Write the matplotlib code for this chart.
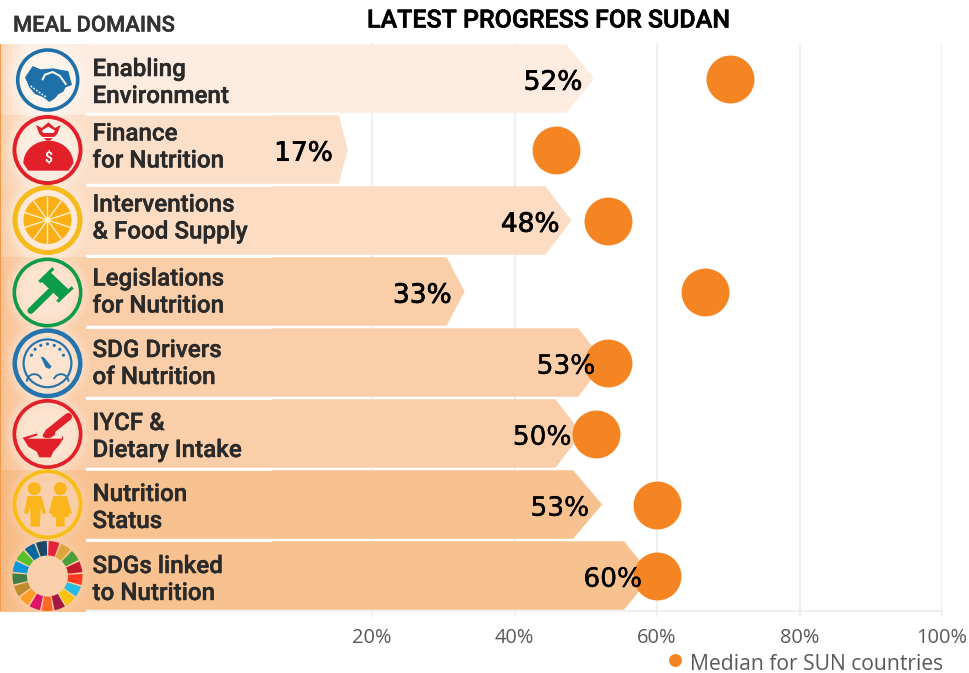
import numpy as np
import matplotlib
matplotlib.use("Agg")
import matplotlib.pyplot as plt
import matplotlib.patheffects as pe
from matplotlib.patches import Circle, Ellipse, Polygon, Wedge, Rectangle, Arc

# ---------- data ----------
domains = ["Enabling\nEnvironment", "Finance\nfor Nutrition", "Interventions\n& Food Supply",
           "Legislations\nfor Nutrition", "SDG Drivers\nof Nutrition", "IYCF &\nDietary Intake",
           "Nutrition\nStatus", "SDGs linked\nto Nutrition"]
progress = [52, 17, 48, 33, 53, 50, 53, 60]
bar_tips = [51.2, 16.6, 48.0, 33.0, 52.6, 49.4, 52.3, 59.3]
median_sun = [70.2, 45.8, 53.1, 66.7, 53.1, 51.4, 60.0, 60.0]
tick_values = [20, 40, 60, 80, 100]
tick_labels = ["20%", "40%", "60%", "80%", "100%"]

# ---------- styles ----------
W, H = 969, 673
row_colors = ["#FDECDF", "#FCDFC9", "#FCDDC3", "#FBCEAA", "#FBCEAA", "#FBCEAA", "#F8C190", "#F8C190"]
head_px = [28, 9, 26, 18, 26, 26, 29, 28]
label_gap_px = [12, 15, 12, 13, 9, 10, 13, 10]
label_stroke = [0.55, 0.55, 0.55, 0.55, 0.25, 0.25, 0.25, 0.25]
ORANGE = "#F58423"
GREY = "#595959"
GRID = "#F0F0F0"
sans = ["Open Sans", "DejaVu Sans"]
lbl = ["Roboto", "DejaVu Sans"]

fig = plt.figure(figsize=(W / 100, H / 100), dpi=100, facecolor="white")
ax = fig.add_axes([0, (H - 611) / H, 942 / W, 568 / H])
px_per_pct = 7.125
ax.set_xlim(-229.5 / px_per_pct, 100)
ax.set_ylim(7.5, -0.5)
ax.patch.set_alpha(0)
for s in ["top", "left", "right"]:
    ax.spines[s].set_visible(False)
ax.spines["bottom"].set_color(GRID)
ax.spines["bottom"].set_linewidth(1.6)
ax.set_yticks([])
ax.set_xticks(tick_values)
ax.set_xticklabels(tick_labels, fontsize=14.4, color=GREY, family=sans)
ax.tick_params(axis="x", color=GRID, width=1.4, length=4.5, pad=8)
ax.xaxis.grid(True, color=GRID, linewidth=1.6)
ax.set_axisbelow(True)

xmin = ax.get_xlim()[0]
bar_h = 0.965
for i, (tip, col, hp) in enumerate(zip(bar_tips, row_colors, head_px)):
    head = hp / px_per_pct
    ax.add_patch(Polygon([(xmin, i - bar_h / 2), (tip - head, i - bar_h / 2), (tip, i),
                          (tip - head, i + bar_h / 2), (xmin, i + bar_h / 2)],
                         closed=True, fc=col, ec="none", zorder=2))

pts = ax.scatter(median_sun, range(len(median_sun)), s=1190, color=ORANGE, zorder=3,
                 linewidths=0, label="Median for SUN countries", clip_on=False)

for i, (v, tip, gap) in enumerate(zip(progress, bar_tips, label_gap_px)):
    t_ = ax.annotate(f"{v}%", (tip, i), xytext=(-gap * 0.72, -3.0), textcoords="offset points",
                     ha="right", va="center", fontsize=19, color="black",
                     family=["DejaVu Sans"], zorder=5)
    t_.set_path_effects([pe.withStroke(linewidth=label_stroke[i], foreground="black")])

leg = ax.legend(handles=[pts], loc="upper left", bbox_to_anchor=(658 / 942, -0.075), frameon=False,
                labelcolor=GREY, markerscale=0.27, handletextpad=-0.1, handlelength=1.6,
                scatteryoffsets=[0.62], borderaxespad=0, borderpad=0,
                prop={"family": sans, "size": 15.2})

# ---------- overlay in pixel space: domain column and icons ----------
ov = fig.add_axes([0, 0, 1, 1], zorder=5)
ov.patch.set_alpha(0)
ov.axis("off")


def rowy(i):
    return 43 + 71 * i


for i, col in enumerate(row_colors):
    ov.add_patch(Rectangle((0, rowy(i) + 1), 86, 71, fc=col, ec="none", zorder=1))
    if i:
        ov.add_patch(Rectangle((86, rowy(i) - 1.2), 186, 3.0, fc="#FFFFFF", ec="none", alpha=.85, zorder=2))

grad = np.zeros((2, 64, 4))
grad[..., :3] = matplotlib.colors.to_rgb("#F59A4A")
grad[..., 3] = np.linspace(0.32, 0, 64) ** 1.2
ov.imshow(grad, extent=(0, 24, 611, 44), aspect="auto", zorder=2)
ov.add_patch(Rectangle((0, 44), 1.3, 567, fc="#F59A4A", ec="none", zorder=2))

yy, xx = np.mgrid[-1:1:128j, -1:1:128j]
rr = np.sqrt(xx ** 2 + yy ** 2)
glow = np.ones((128, 128, 4))
glow[..., 3] = np.clip((1 - rr) / 0.5, 0, 1) ** 0.7 * 0.55


def glow_at(cx, cy, r, a=1.0):
    g = glow.copy()
    g[..., 3] *= a
    ov.imshow(g, extent=(cx - r, cx + r, cy + r, cy - r), aspect="auto", zorder=3)


def z(points, y0=0):
    """zoom crop coordinates to pixels"""
    return [(x / 3, y / 3 + y0) for x, y in points]


def ring(cx, cy, r, w, c):
    ov.add_patch(Circle((cx, cy), r - w / 2, fc="none", ec=c, lw=w * .72, zorder=5))


CX = 47.5
cy_icons = [80, 150, 220, 292.5, 363.3, 434, 504.3, 576]
for cy in cy_icons:
    glow_at(CX, cy, 44, 0.85 if cy < 500 else 0.45)

# handshake
BLUE = "#1F70A9"
ov.add_patch(Circle((47.7, 80), 30, fc="none", ec=BLUE, lw=3.6 * .72, zorder=5))
ov.add_patch(Polygon(z([(75, 232), (98, 198), (122, 208), (160, 205), (185, 210), (205, 213), (216, 255),
                        (197, 262), (190, 275), (175, 283), (165, 295), (148, 306), (130, 292), (105, 282),
                        (88, 262)]), fc=BLUE, ec="none", zorder=6))
ov.plot(*zip(*z([(128, 238), (135, 224), (158, 216), (180, 228), (197, 252)])), color="white", lw=1.4, zorder=7)
ov.plot(*zip(*z([(92, 258), (108, 270), (122, 280), (140, 292)])), color="white", lw=1.1, ls=(0, (1.2, 1)), zorder=7)

# money bag
RED = "#E2202A"
ring(47.5, 150, 35, 3.9, RED)
t = np.linspace(np.pi, 2 * np.pi, 40)
bag = [(145 + 75 * np.cos(a), 490 + 68 * np.sin(a)) for a in t] + [(205, 512), (85, 512)]
ov.add_patch(Polygon(z(bag), fc=RED, ec="none", zorder=6))
ov.add_patch(Polygon(z([(108, 375), (125, 384), (145, 367), (165, 384), (182, 375), (172, 402), (150, 422),
                        (140, 422), (118, 402)]), fc=RED, ec="none", zorder=6))
ov.add_patch(Polygon(z([(125, 392), (145, 380), (165, 392), (160, 399), (130, 399)]), fc="white", ec="none", zorder=7))
ov.plot(*zip(*z([(122, 410), (168, 410)])), color="white", lw=0.8, zorder=7)
ov.text(48, 158.5, "$", color="white", fontsize=10, weight="bold", ha="center", va="center", zorder=7, family=lbl)

# orange slice
YEL = "#F6BA1B"
ring(47.5, 220, 35, 5, YEL)
ov.add_patch(Circle((47.5, 220), 24, fc="#FBAF17", ec="none", zorder=6))
for a in np.deg2rad(np.arange(0, 180, 36) + 18):
    ov.plot([47.5 - 23.5 * np.cos(a), 47.5 + 23.5 * np.cos(a)], [220 - 23.5 * np.sin(a), 220 + 23.5 * np.sin(a)],
            color="#FFEFC8", lw=1.0, zorder=7)
ov.add_patch(Circle((47.5, 220), 2.5, fc="#FFEFC8", ec="none", zorder=7))

# gavel
GREEN = "#0E9C4A"
ring(47.5, 292.5, 35, 3.6, GREEN)


def zl(points, w, c, y0=250, cap="butt"):
    ov.plot(*zip(*z(points, y0)), color=c, lw=w * .72, solid_capstyle=cap, zorder=6)


zl([(92, 182), (150, 125)], 6.5, GREEN, cap="round")
zl([(135, 78), (192, 132)], 13, GREEN)
zl([(118, 96), (160, 55)], 3.2, GREEN)
zl([(172, 155), (218, 112)], 3.2, GREEN)

# gauge
GB = "#2474AE"
ring(47.5, 363.3, 35, 4.5, GB)
ring(47.5, 363.3, 25, 2.2, GB)
for a in np.deg2rad(np.linspace(200, 340, 7)):
    ov.add_patch(Circle((47.5 + 17 * np.cos(a), 361 + 17 * np.sin(a)), 1.6, fc=GB, ec="none", zorder=6))
ov.add_patch(Polygon(z([(122, 320), (132, 322), (155, 350), (148, 357), (137, 352)], 250), fc=GB, ec="none", zorder=6))
for cxz, th1, th2 in [(103, 180, 340), (183, 200, 360)]:
    ov.add_patch(Arc((cxz / 3, 250 + 395 / 3), 15, 15, theta1=th1, theta2=th2, ec=GB, lw=1.4, zorder=6))

# mortar and pestle
ring(47.5, 434, 35, 3.7, RED)
zl([(145, 548), (205, 500)], 7.5, RED, cap="round")
ov.add_patch(Ellipse((147 / 3, 250 + 553 / 3), 13, 7, angle=-15, fc=RED, ec="none", zorder=6))
ov.add_patch(Polygon(z([(68, 563), (112, 550), (112, 556), (82, 566), (185, 566), (188, 556), (190, 566), (178, 585),
                        (160, 605), (152, 622), (118, 622), (110, 605), (85, 590)], 250), fc=RED, ec="none", zorder=6))

# children
ring(47.5, 504.3, 35, 3.8, "#F8BE16")
Y2 = "#FBB61D"
for hx in (103, 181):
    ov.add_patch(Circle((hx / 3, 250 + 716 / 3), 6.5, fc=Y2, ec="none", zorder=6))
ov.add_patch(Polygon(z([(82, 738), (124, 738), (138, 790), (128, 792), (122, 770), (120, 830), (92, 830), (90, 770),
                        (84, 792), (72, 790)], 250), fc=Y2, ec="none", zorder=6))
ov.add_patch(Polygon(z([(160, 738), (200, 738), (216, 790), (205, 792), (200, 775), (208, 800), (194, 802), (194, 830),
                        (168, 830), (168, 802), (155, 800), (162, 775), (158, 792), (146, 790)], 250),
                     fc=Y2, ec="none", zorder=6))

# SDG wheel
sdg = ["#E5243B", "#DDA63A", "#4C9F38", "#C5192D", "#FF3A21", "#26BDE2", "#FCC30B", "#A21942", "#FD6925",
       "#DD1367", "#FD9D24", "#BF8B2E", "#3F7E44", "#0A97D9", "#56C02B", "#00689D", "#19486A"]
step = 360 / 17
for k, c in enumerate(sdg):
    mid = -90 + 11 + k * step
    ov.add_patch(Wedge((47.5, 576), 35, mid - step / 2 + 1.5, mid + step / 2 - 1.5, width=14.5,
                       fc=c, ec="none", zorder=6))

# domain labels
for i, name in enumerate(domains):
    ov.text(92.5, [83, 147.5, 218.5, 292.5, 364, 437, 508, 580][i], name, fontsize=17.4, color="#2A2A2A",
            family=lbl, weight=500, ha="left", va="center", linespacing=1.22, zorder=8,
            path_effects=[pe.withStroke(linewidth=0.3, foreground="#2A2A2A")])

ov.text(13, 26, "MEAL DOMAINS", fontsize=15.8, color="#333333", family=lbl, weight=500, ha="left", va="center", zorder=8,
        path_effects=[pe.withStroke(linewidth=0.3, foreground="#333333")])
ov.text(548.5, 20.5, "LATEST PROGRESS FOR SUDAN", fontsize=18.0, color="black", family=lbl, weight=500,
        ha="center", va="center", zorder=8, path_effects=[pe.withStroke(linewidth=0.4, foreground="black")])

ov.set_xlim(0, W)
ov.set_ylim(H, 0)
fig.savefig("out.png", dpi=100)
